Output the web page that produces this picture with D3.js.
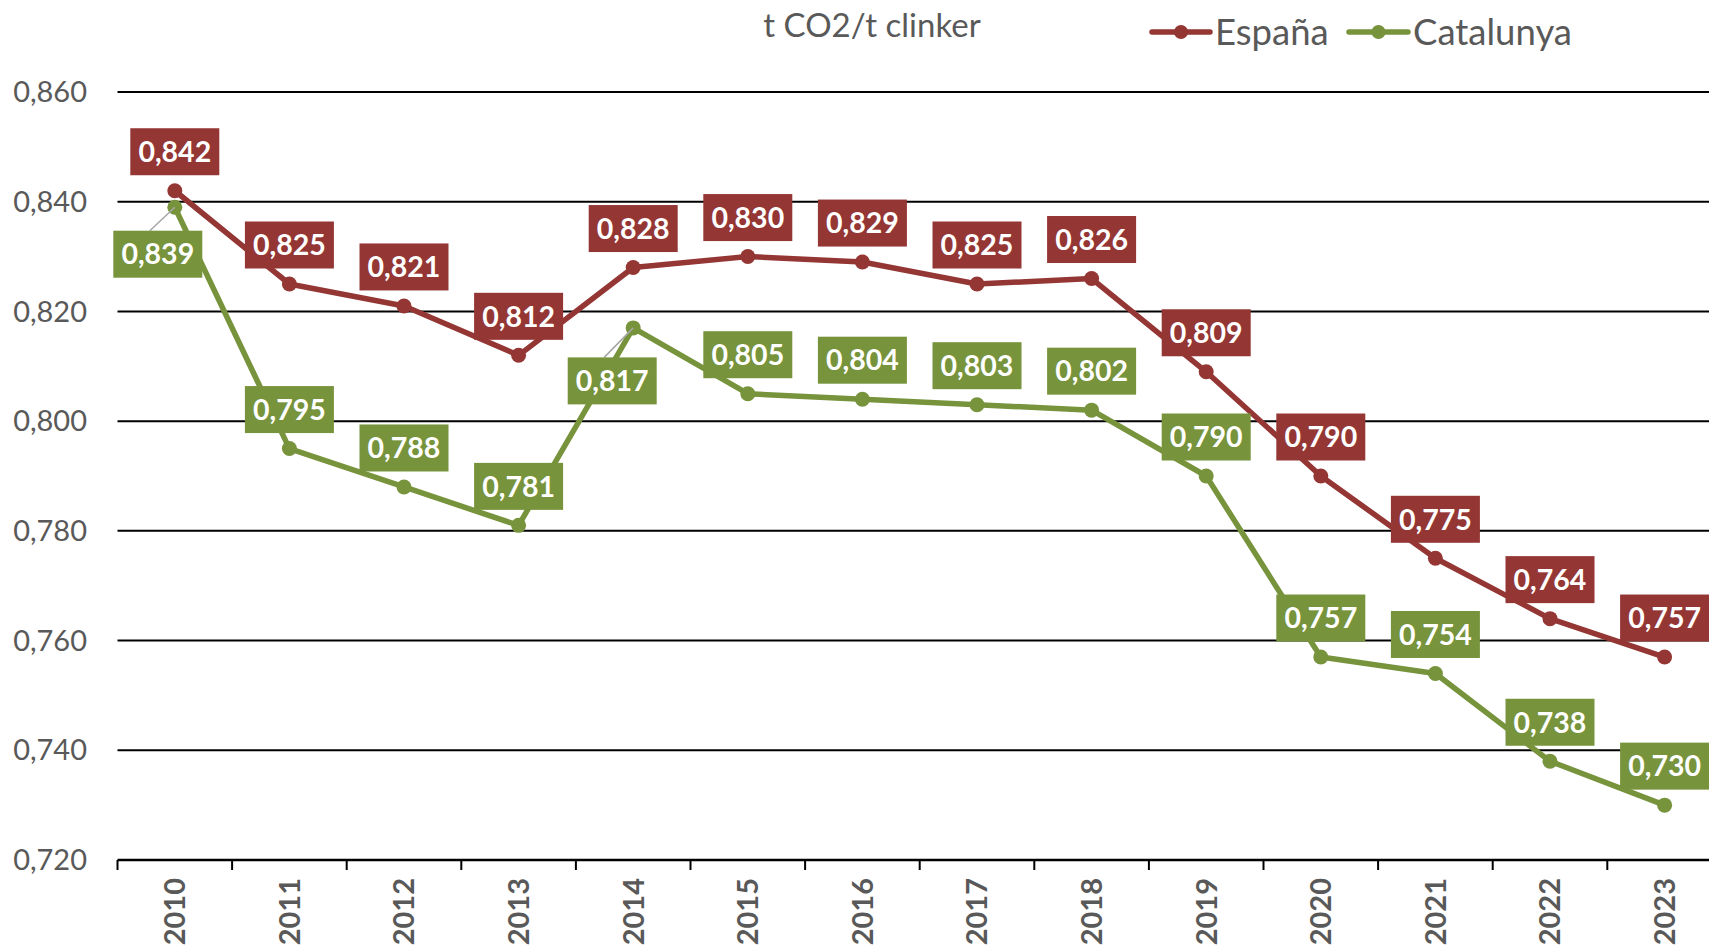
<!DOCTYPE html>
<html><head><meta charset="utf-8">
<script src="https://cdn.jsdelivr.net/npm/d3@7"></script>
<style>body{margin:0;background:#fff}svg{display:block}</style>
</head><body>
<script>
const years = ["2010","2011","2012","2013","2014","2015","2016","2017","2018","2019","2020","2021","2022","2023"];
const espana = [0.842,0.825,0.821,0.812,0.828,0.830,0.829,0.825,0.826,0.809,0.790,0.775,0.764,0.757];
const catalunya = [0.839,0.795,0.788,0.781,0.817,0.805,0.804,0.803,0.802,0.790,0.757,0.754,0.738,0.730];
const yTicks = [0.72,0.74,0.76,0.78,0.80,0.82,0.84,0.86];
const seriesNames = ["España","Catalunya"];

const W=1709,H=947;
const FONT="Lato, 'Open Sans', sans-serif";
const colors={"España":"#943634","Catalunya":"#77933C"};
const svg=d3.select("body").append("svg").attr("width",W).attr("height",H);

const x=d3.scaleBand().domain(years).range([117.5,117.5+114.6*years.length]);
const y=d3.scaleLinear().domain([0.72,0.86]).range([860,92]);
const cx=d=>x(d)+x.bandwidth()/2;
const fmt=v=>d3.format(".3f")(v).replace(".",",");

// gridlines
svg.append("g").selectAll("line").data(yTicks.slice(1)).join("line")
  .attr("x1",117.5).attr("x2",W).attr("y1",d=>y(d)).attr("y2",d=>y(d))
  .attr("stroke","#000").attr("stroke-width",2);

// y labels
svg.append("g").selectAll("text").data(yTicks).join("text")
  .attr("x",87).attr("y",d=>y(d)).attr("dy","0.35em").attr("text-anchor","end")
  .attr("font-family",FONT).attr("font-size",29).attr("fill","#595959").text(d=>fmt(d));

// x axis
const xa=svg.append("g").attr("transform",`translate(0,${y(0.72)})`)
  .call(d3.axisBottom(x).tickSize(0).tickFormat(""));
xa.select(".domain").attr("stroke","#000").attr("stroke-width",2.5).attr("d",`M117.5,0H${W}`);
svg.append("g").selectAll("line").data(d3.range(years.length+1)).join("line")
  .attr("x1",i=>117.5+i*x.step()).attr("x2",i=>117.5+i*x.step())
  .attr("y1",y(0.72)).attr("y2",y(0.72)+10).attr("stroke","#000").attr("stroke-width",2);
svg.append("g").selectAll("text").data(years).join("text")
  .attr("transform",d=>`translate(${cx(d)},${y(0.72)+18}) rotate(-90)`)
  .attr("text-anchor","end").attr("dy","0.36em")
  .attr("font-family",FONT).attr("font-weight","bold").attr("font-size",29).attr("fill","#595959").text(d=>d);

const series=[{name:"España",values:espana},{name:"Catalunya",values:catalunya}];
const line=d3.line().x((d,i)=>cx(years[i])).y(d=>y(d));

series.forEach(s=>{
  svg.append("path").datum(s.values).attr("d",line).attr("fill","none")
    .attr("stroke",colors[s.name]).attr("stroke-width",5.5).attr("stroke-linejoin","round");
  svg.append("g").selectAll("circle").data(s.values).join("circle")
    .attr("cx",(d,i)=>cx(years[i])).attr("cy",d=>y(d)).attr("r",7.5).attr("fill",colors[s.name]);
});

// labels
const special={"Catalunya":{0:[-17,47],4:[-21,53]}};
const bw=89,bh=47;
series.forEach(s=>{
  s.values.forEach((v,i)=>{
    const px=cx(years[i]),py=y(v);
    let off=[0,-39];
    if(special[s.name]&&special[s.name][i]) off=special[s.name][i];
    const lx=px+off[0],ly=py+off[1];
    if(off[0]!==0){
      svg.append("line").attr("x1",px).attr("y1",py).attr("x2",lx-8).attr("y2",ly-bh/2)
        .attr("stroke","#a6a6a6").attr("stroke-width",1.5);
    }
    svg.append("rect").attr("x",lx-bw/2).attr("y",ly-bh/2).attr("width",bw).attr("height",bh)
      .attr("fill",colors[s.name]);
    svg.append("text").attr("x",lx).attr("y",ly).attr("dy","0.36em").attr("text-anchor","middle")
      .attr("font-family",FONT).attr("font-weight","bold").attr("font-size",28.5).attr("fill","#fff").text(fmt(v));
  });
});

// title
svg.append("text").attr("x",872).attr("y",25).attr("dy","0.35em").attr("text-anchor","middle")
  .attr("font-family",FONT).attr("font-size",33).attr("fill","#595959").text("t CO2/t clinker");

// legend
const leg=[{n:"España",x1:1152,x2:1210,tx:1215},{n:"Catalunya",x1:1349,x2:1408,tx:1413}];
leg.forEach(l=>{
  const g=svg.append("g");
  g.append("line").attr("x1",l.x1).attr("x2",l.x2).attr("y1",32).attr("y2",32)
    .attr("stroke",colors[l.n]).attr("stroke-width",5.5).attr("stroke-linecap","round");
  g.append("circle").attr("cx",(l.x1+l.x2)/2).attr("cy",32).attr("r",7).attr("fill",colors[l.n]);
  g.append("text").attr("x",l.tx).attr("y",32).attr("dy","0.35em")
    .attr("font-family",FONT).attr("font-size",36.5).attr("fill","#595959").text(l.n);
});
</script>
</body></html>
